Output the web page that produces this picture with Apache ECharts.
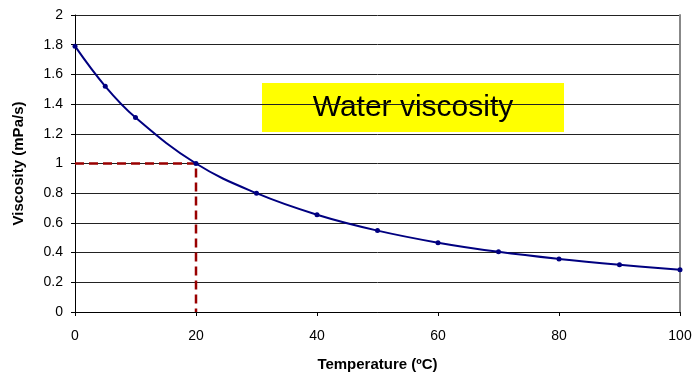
<!DOCTYPE html>
<html><head><meta charset="utf-8">
<script src="https://cdn.jsdelivr.net/npm/echarts@6/dist/echarts.min.js"></script>
<style>html,body{margin:0;padding:0;background:#fff}#c{width:697px;height:379px}</style>
</head><body><div id="c"></div>
<script>
var temperatures = [0, 5, 10, 20, 30, 40, 50, 60, 70, 80, 90, 100];
var viscosity = [1.79, 1.52, 1.31, 1.00, 0.80, 0.655, 0.548, 0.467, 0.405, 0.357, 0.318, 0.285];
var guideX = [0, 20, 20];
var guideY = [1, 1, 0];
var chartTitle = 'Water viscosity';
var xTitle = 'Temperature (ºC)';
var yTitle = 'Viscosity (mPa/s)';

var chart = echarts.init(document.getElementById('c'));
var font = '"Liberation Sans", Arial, sans-serif';
chart.setOption({
  animation: false,
  grid: {left: 75, right: 17, top: 15, bottom: 67},
  xAxis: {
    type: 'value', min: 0, max: 100, interval: 20,
    name: xTitle, nameLocation: 'middle', nameGap: 45,
    nameTextStyle: {fontFamily: font, fontSize: 15, fontWeight: 'bold', color: '#000'},
    axisLine: {lineStyle: {color: '#000', width: 1}},
    axisTick: {show: true, length: 4, lineStyle: {color: '#000'}},
    axisLabel: {fontFamily: font, fontSize: 14, color: '#000', margin: 17},
    splitLine: {show: false}
  },
  yAxis: [{
    type: 'value', min: 0, max: 2, interval: 0.2,
    name: yTitle, nameLocation: 'middle', nameGap: 49, nameRotate: 90,
    nameTextStyle: {fontFamily: font, fontSize: 15, fontWeight: 'bold', color: '#000'},
    axisLine: {show: true, lineStyle: {color: '#000', width: 1}},
    axisTick: {show: true, length: 4, lineStyle: {color: '#000'}},
    axisLabel: {fontFamily: font, fontSize: 14, color: '#000', margin: 12},
    splitLine: {show: true, lineStyle: {color: '#222', width: 1}}
  }, {
    type: 'value', min: 0, max: 2, position: 'right',
    axisLine: {show: true, lineStyle: {color: '#888', width: 2}},
    axisTick: {show: false}, axisLabel: {show: false}, splitLine: {show: false}
  }],
  series: [{
    type: 'line',
    data: guideX.map(function (x, i) { return [x, guideY[i]]; }),
    symbol: 'none',
    lineStyle: {color: '#990000', width: 2.5, type: [9, 5]},
    z: 3
  }, {
    type: 'line',
    data: temperatures.map(function (t, i) { return [t, viscosity[i]]; }),
    smooth: 0.4,
    symbol: 'circle', symbolSize: 5,
    itemStyle: {color: '#000080'},
    lineStyle: {color: '#000080', width: 2},
    z: 4
  }],
  graphic: [{
    type: 'group', left: 262, top: 83,
    children: [{
      type: 'rect', shape: {x: 0, y: 0, width: 302, height: 49},
      style: {fill: '#ffff00'}
    }, {
      type: 'text', x: 151, y: 25,
      style: {text: chartTitle, font: '30px ' + font, fill: '#000', align: 'center', verticalAlign: 'middle'}
    }]
  }]
});
</script></body></html>
